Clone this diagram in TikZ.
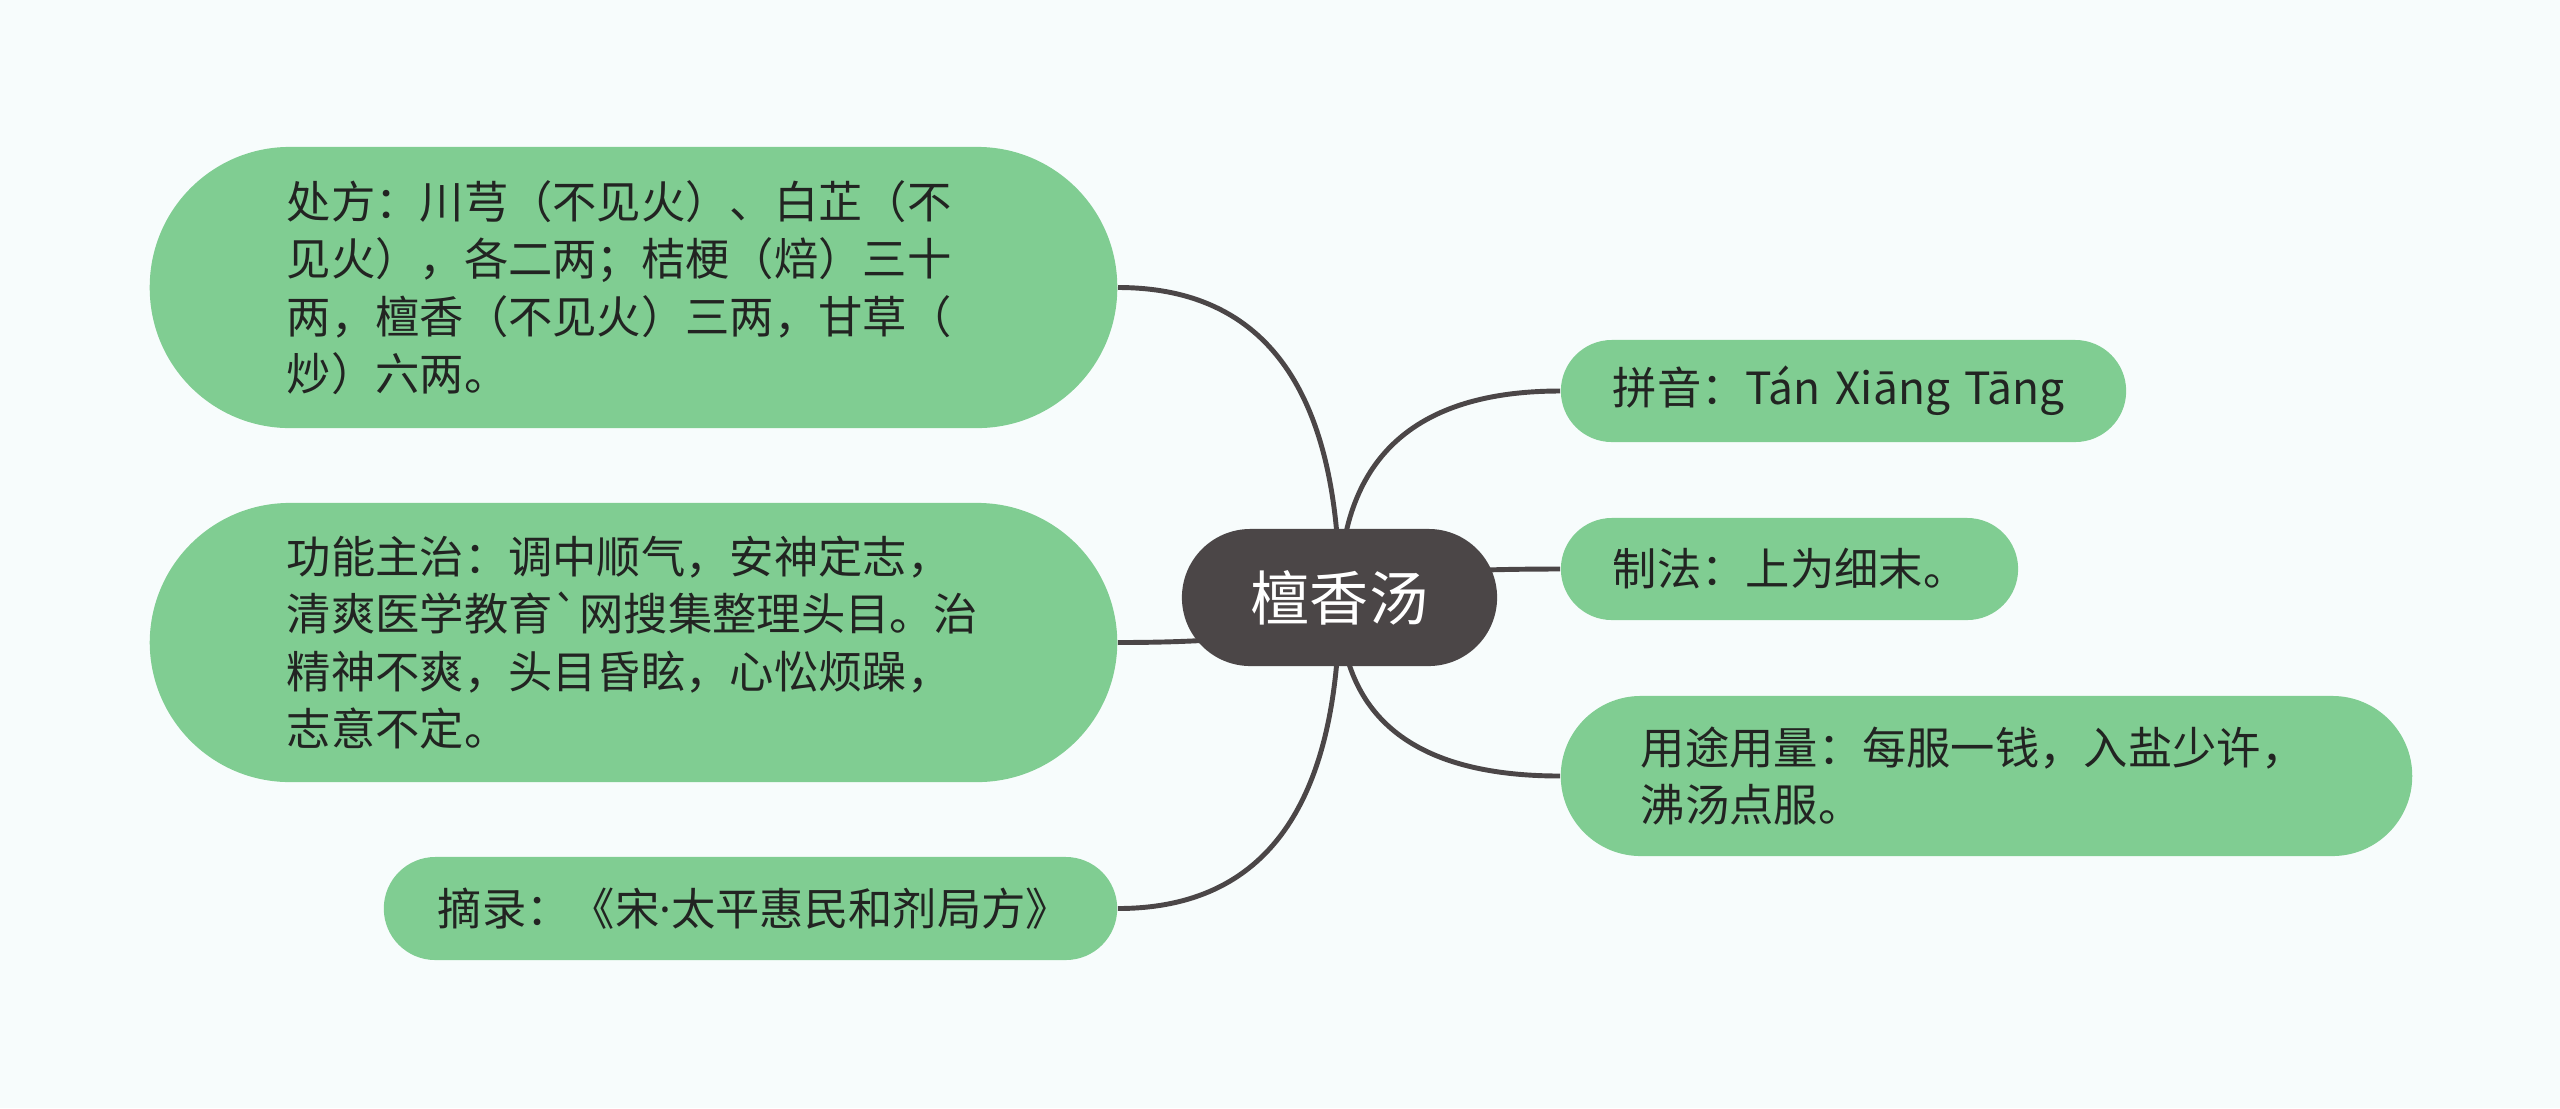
\documentclass[tikz,border=0pt]{standalone}
\usepackage{fontspec}
\newfontfamily\cjk{Noto Sans CJK SC}
\newfontfamily\latinfont{Noto Sans}
\usepackage{tikz}
\usetikzlibrary{calc}

\definecolor{paper}{RGB}{247,252,252}
\definecolor{leafgreen}{RGB}{128,205,146}
\definecolor{leafink}{RGB}{34,36,34}
\definecolor{rootgray}{RGB}{75,70,71}

\pgfdeclarelayer{back}
\pgfsetlayers{back,main}

\begin{document}
\begin{tikzpicture}[
  x=0.01cm, y=-0.01cm,
  root/.style={fill=rootgray, text=white, minimum width=3.15cm,
               minimum height=1.37cm, rounded corners=0.685cm,
               font=\cjk\fontsize{16.8}{20}\selectfont},
  leaf/.style={fill=leafgreen, text=leafink, rounded corners=#1,
               inner xsep=0pt, inner ysep=0pt, align=left,
               font=\cjk\fontsize{12.6}{16.3}\selectfont},
  link/.style={draw=rootgray, line width=1.4pt}
]
  % Page
  \useasboundingbox (0,0) rectangle (2560,1108);

  % Root
  \node[root] (c) at (1339.5,597.5) {檀香汤};

  % Left branches
  \node[leaf=1.4cm, minimum width=9.67cm, minimum height=2.81cm,
        text width=6.93cm] (recipe) at (633.5,287.5)
    {处方：川芎（不见火）、白芷（不\\见火），各二两；桔梗（焙）三十\\两，檀香（不见火）三两，甘草（\\炒）六两。};
  \node[leaf=1.4cm, minimum width=9.67cm, minimum height=2.79cm,
        text width=6.93cm] (usage) at (633.5,642.5)
    {功能主治：调中顺气，安神定志，\\清爽医学教育\symbol{96}网搜集整理头目。治\\精神不爽，头目昏眩，心忪烦躁，\\志意不定。};
  \node[leaf=0.515cm, minimum width=7.33cm, minimum height=1.03cm,
        text width=6.25cm] (source) at (750.5,908.5)
    {摘录：《宋{\latinfont ·}太平惠民和剂局方》};

  % Right branches
  \node[leaf=0.51cm, minimum width=5.65cm, minimum height=1.02cm,
        text width=4.61cm] (pinyin) at (1843.5,391)
    {拼音：Tán Xiāng Tāng};
  \node[leaf=0.51cm, minimum width=4.57cm, minimum height=1.02cm,
        text width=3.53cm] (make) at (1789.5,569)
    {制法：上为细末。};
  \node[leaf=0.8cm, minimum width=8.51cm, minimum height=1.60cm,
        text width=6.91cm] (dose) at (1986.5,776)
    {用途用量：每服一钱，入盐少许，\\沸汤点服。};

  % Connectors
  \begin{pgfonlayer}{back}
    \fill[paper] (0,0) rectangle (2560,1108);
    \foreach \leafname/\side in {recipe/east, usage/east, source/east,
                                 pinyin/west, make/west, dose/west}
      \draw[link] (\leafname.\side)
        .. controls ($(\leafname.\side)!0.667!(c.center |- \leafname.\side)$)
        and ($(c.center)!0.667!(c.center |- \leafname.\side)$) .. (c.center);
  \end{pgfonlayer}
\end{tikzpicture}
\end{document}
